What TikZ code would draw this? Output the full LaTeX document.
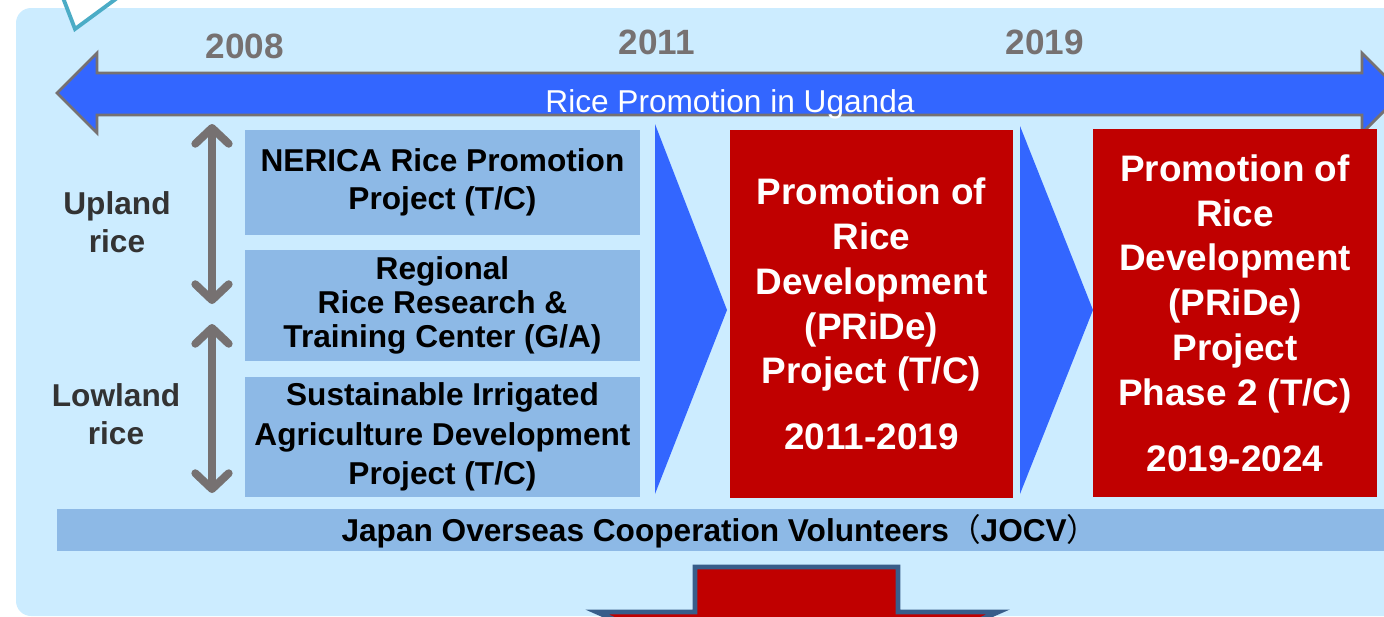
\documentclass[tikz,border=0pt]{standalone}
\usepackage{fontspec}
\setmainfont{Liberation Sans}
\newfontfamily\cjk{Noto Sans CJK JP}
\usetikzlibrary{arrows.meta}
\definecolor{bgblue}{HTML}{CCECFF}
\definecolor{boxblue}{HTML}{8DB9E6}
\definecolor{arrowblue}{HTML}{3366FF}
\definecolor{ricered}{HTML}{C00000}
\definecolor{yeargray}{HTML}{767171}
\definecolor{labelgray}{HTML}{333333}
\definecolor{calloutteal}{HTML}{4BACC6}
\definecolor{edgeblue}{HTML}{385D8A}
\tikzset{
  projbox/.style={fill=boxblue, inner sep=0pt, minimum width=7.9cm, align=center,
    font=\bfseries\fontsize{18}{22}\selectfont},
  pridebox/.style={fill=ricered, text=white, inner sep=0pt, minimum width=5.66cm,
    minimum height=7.36cm, align=center, font=\bfseries\fontsize{21}{25.5}\selectfont},
  yearlabel/.style={text=yeargray, font=\bfseries\fontsize{20}{24}\selectfont},
  ricelabel/.style={text=labelgray, align=center, font=\bfseries\fontsize{18}{21.5}\selectfont},
  grayarrow/.style={draw=yeargray, line width=4.5pt, line cap=round,
    {Straight Barb[round,length=9pt,width=19pt]}-{Straight Barb[round,length=9pt,width=19pt]}}
}
\begin{document}
\begin{tikzpicture}[x=0.02cm,y=-0.02cm]
\useasboundingbox (0,0) rectangle (1384,616);
%\draw[step=50,gray,very thin] (0,0) grid (1384,616);
\fill[bgblue, rounded corners=0.3cm] (16,8) rectangle (1440,616);
\draw[calloutteal, fill=white, line width=2.2pt] (60,-10)--(75,29)--(128,-10);

%------------------------------------------------ timeline
\draw[draw=yeargray, fill=arrowblue, line width=1.6pt]
  (57,93)--(97,53)--(97,73)--(1362,73)--(1362,53)--(1402,93)--(1362,133)--(1362,115)--(97,115)--(97,133)--cycle;
\node[text=white, font=\fontsize{18}{21}\selectfont] (uganda) at (730,104) {Rice Promotion in Uganda};
\node[yearlabel] (y2008) at (245,46) {2008};
\node[yearlabel] (y2011) at (657,42) {2011};
\node[yearlabel] (y2019) at (1045,42) {2019};

%------------------------------------------------ upland / lowland
\coordinate (uptop) at (212,124);
\coordinate (upbot) at (212,304);
\coordinate (lowtop) at (212,324);
\coordinate (lowbot) at (212,493);
\draw[grayarrow] (uptop) -- (upbot);
\draw[grayarrow] (lowtop) -- (lowbot);
\node[ricelabel] (upland) at (117,222) {Upland\\rice};
\node[ricelabel] (lowland) at (116,414) {Lowland\\rice};

%------------------------------------------------ first projects
\node[projbox, minimum height=2.1cm] (nerica) at (442.5,182.5) {NERICA Rice Promotion\\Project (T/C)\vphantom{g}};
\node[projbox, minimum height=2.22cm, font=\bfseries\fontsize{18}{19.3}\selectfont] (rrtc) at (442.5,305.5) {Regional\\Rice Research \&\\Training Center (G/A)};
\node[projbox, minimum height=2.4cm, font=\bfseries\fontsize{18}{22.5}\selectfont] (siad) at (442.5,437) {Sustainable Irrigated\\Agriculture Development\\Project (T/C)};

%------------------------------------------------ PRiDe
\fill[arrowblue] (655,124)--(727,310)--(655,494)--cycle;
\fill[arrowblue] (1020,126)--(1093,310)--(1020,494)--cycle;
\node[pridebox] (pride) at (871.5,314) {Promotion of\\Rice\\Development\\(PRiDe)\\Project (T/C)\\[12pt]2011-2019};
\node[pridebox, minimum width=5.68cm] (pride2) at (1235,313) {Promotion of\\Rice\\Development\\(PRiDe)\\Project\\Phase 2 (T/C)\\[12pt]2019-2024};

%------------------------------------------------ JOCV
\fill[boxblue] (57,509) rectangle (1440,551);
\node[font=\bfseries\fontsize{18}{21}\selectfont] (jocv) at (720,531) {Japan Overseas Cooperation Volunteers{\cjk\mdseries （}JOCV{\cjk\mdseries ）}};
\draw[draw=edgeblue, fill=ricered, line width=2.8pt]
  (695,567)--(898,567)--(898,612)--(998,612)--(797,700)--(597,612)--(695,612)--cycle;
\end{tikzpicture}
\end{document}
